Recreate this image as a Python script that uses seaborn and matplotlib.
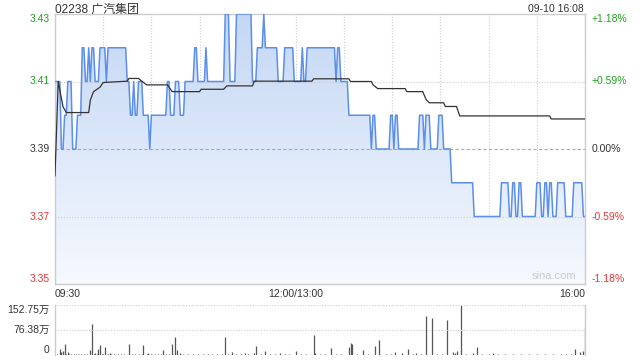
import numpy as np
import pandas as pd
import matplotlib
matplotlib.use("Agg")
import matplotlib.pyplot as plt
import matplotlib.transforms as mtransforms
from matplotlib.colors import LinearSegmentedColormap
import seaborn as sns

# ---------------- data ----------------
title = "02238 广汽集团"
stamp = "09-10 16:08"
prev_close = 3.39
price_ticks = [3.35, 3.37, 3.39, 3.41, 3.43]
price_tick_labels = ["3.35", "3.37", "3.39", "3.41", "3.43"]
pct_tick_labels = ["-1.18%", "-0.59%", "0.00%", "+0.59%", "+1.18%"]
time_labels = ["09:30", "12:00/13:00", "16:00"]
time_label_minutes = [0, 150, 330]
n_minutes = 331  # 09:30-12:00 + 13:00-16:00, one point per minute

# price: minute at which a new price starts, and that price
change_minutes = [0, 4, 6, 8, 11, 14, 17, 19, 21, 22,
                  23, 25, 28, 32, 33, 45, 47, 49, 50, 52,
                  55, 59, 60, 70, 72, 75, 78, 81, 87, 89,
                  94, 95, 106, 109, 113, 123, 126, 130, 131, 139,
                  143, 149, 154, 155, 157, 175, 176, 178, 183, 197,
                  198, 200, 209, 211, 212, 214, 227, 230, 231, 234,
                  239, 242, 247, 261, 278, 283, 285, 287, 289, 291,
                  300, 303, 305, 307, 308, 310, 313, 318, 323, 329]
change_prices = [3.41, 3.39, 3.40, 3.41, 3.39, 3.40, 3.42, 3.41, 3.42, 3.41,
                 3.42, 3.41, 3.42, 3.41, 3.42, 3.41, 3.40, 3.41, 3.40, 3.41,
                 3.40, 3.39, 3.40, 3.41, 3.40, 3.41, 3.40, 3.41, 3.42, 3.41,
                 3.42, 3.41, 3.43, 3.41, 3.43, 3.41, 3.42, 3.43, 3.42, 3.41,
                 3.42, 3.41, 3.42, 3.41, 3.42, 3.41, 3.42, 3.41, 3.40, 3.39,
                 3.40, 3.39, 3.40, 3.39, 3.40, 3.39, 3.40, 3.39, 3.40, 3.39,
                 3.40, 3.39, 3.38, 3.37, 3.38, 3.37, 3.38, 3.37, 3.38, 3.37,
                 3.38, 3.37, 3.38, 3.37, 3.38, 3.37, 3.38, 3.37, 3.38, 3.37]

# average price line (knots)
avg_minutes = [0, 2, 5, 7, 21, 22, 24, 28, 30, 45, 46, 52, 57, 70, 73, 90, 91, 105,
               107, 123, 124, 160, 161, 183, 184, 197, 198, 201, 218, 219, 229, 231,
               233, 242, 243, 250, 252, 308, 309, 330]
avg_values = [3.382, 3.410, 3.4025, 3.4008, 3.4008, 3.4045, 3.407, 3.4083, 3.4097,
              3.4101, 3.4109, 3.4109, 3.409, 3.409, 3.407, 3.407, 3.4077, 3.4077,
              3.4087, 3.4087, 3.4101, 3.4101, 3.4108, 3.4108, 3.4100, 3.4100, 3.409,
              3.4079, 3.4079, 3.407, 3.407, 3.4047, 3.4037, 3.4037, 3.4026, 3.4026,
              3.3998, 3.3998, 3.3989, 3.3989]

# volume (万)
vol_minutes = [3, 4, 5, 6, 8, 22, 23, 25, 27, 28, 31, 34, 46, 55, 58, 67, 73, 75, 76, 78,
               106, 110, 118, 124, 125, 131, 140, 150, 161, 162, 172, 183, 184, 185, 192,
               199, 202, 212, 216, 220, 225, 231, 235, 244, 248, 249, 250, 253, 260, 263,
               273, 324, 327, 329, 330]
vol_values = [17, 10, 13, 34, 10, 15, 95, 7, 17, 31, 25, 6, 34, 31, 7, 15, 34, 56, 15, 6,
              56, 10, 5, 6, 28, 12, 5, 12, 61, 6, 22, 25, 37, 34, 15,
              28, 46, 10, 6, 18, 5, 119, 114, 107, 10, 7, 13, 152.75, 6, 25,
              5, 18, 10, 13, 86]
small_vol_minutes = [1, 7, 9, 10, 12, 13, 15, 16, 18, 20, 24, 26, 29, 30, 33, 35, 37, 39,
                     41, 43, 48, 50, 52, 54, 57, 60, 62, 64, 66, 69, 71, 80, 83, 86, 89,
                     92, 95, 98, 101, 104, 108, 113, 116, 120, 128, 134, 137, 143, 146,
                     153, 156, 165, 168, 175, 178, 188, 195, 206, 209, 223, 228, 238, 241,
                     256, 266, 270, 276, 280, 285, 290, 295, 300, 305, 310, 315, 318, 321]
small_vol_values = [3, 4, 2, 3, 4, 2, 3, 2, 3, 3, 2, 4, 3, 2, 3, 2, 3, 2,
                    3, 2, 3, 2, 4, 2, 3, 2, 3, 2, 3, 2, 3, 2, 3, 2, 3,
                    2, 3, 2, 3, 2, 3, 2, 3, 2, 3, 2, 3, 2, 3,
                    2, 3, 2, 3, 2, 3, 2, 3, 2, 3, 2, 3, 2, 3,
                    2, 3, 2, 3, 2, 3, 2, 3, 2, 3, 2, 3, 2, 3]
vol_ticks = [0, 76.38, 152.75]
vol_tick_labels = ["0", "76.38万", "152.75万"]

# ---------------- styling ----------------
sns.set_theme(style="white")
plt.rcParams["font.family"] = ["Liberation Sans", "Noto Sans CJK SC", "DejaVu Sans"]

GREEN = "#1fa31f"
RED = "#ee3333"
DARK = "#333333"
BORDER = "#cccccc"
LINE = "#5b8fe8"
FS = 7.5

durations = np.diff(change_minutes + [n_minutes])
price = np.repeat(change_prices, durations)
minutes = np.arange(n_minutes)
df = pd.DataFrame({"minute": minutes, "price": price})
avg_df = pd.DataFrame({"minute": avg_minutes, "avg": avg_values})

vol = np.zeros(n_minutes)
vol[small_vol_minutes] = small_vol_values
vol[vol_minutes] = vol_values

fig = plt.figure(figsize=(6.4, 3.6), dpi=100)
fig.patch.set_facecolor("white")
ax = fig.add_axes([55 / 640, 1 - 284 / 360, 530 / 640, 270 / 360])
axv = fig.add_axes([55 / 640, 5 / 360, 530 / 640, 50 / 360])

ymin, ymax = price_ticks[0], price_ticks[-1]
xmax = n_minutes - 1

# gradient fill under price line
poly = ax.fill_between(df["minute"], df["price"], ymin, facecolor="none", edgecolor="none")
cmap = LinearSegmentedColormap.from_list("g", ["#f6f9fe", "#c4d7f5"])
grad = np.linspace(0, 1, 256).reshape(-1, 1)
im = ax.imshow(grad, extent=[0, xmax, ymin, ymax], origin="lower", aspect="auto",
               cmap=cmap, zorder=1, interpolation="bilinear")
im.set_clip_path(poly.get_paths()[0], transform=ax.transData)

sns.lineplot(data=df, x="minute", y="price", ax=ax, color=LINE, lw=1.1, zorder=3)
sns.lineplot(data=avg_df, x="minute", y="avg", ax=ax, color=DARK, lw=0.9, zorder=4)

ax.set_xlim(0, xmax)
ax.set_ylim(ymin, ymax)
ax.set_xlabel("")
ax.set_ylabel("")
ax.set_xticks(np.arange(0, n_minutes, 30))
ax.set_xticklabels([])
ax.tick_params(axis="x", length=0)
ax.grid(axis="x", color=BORDER, ls=(0, (1, 1.5)), lw=0.8)
for v in [price_ticks[1], price_ticks[3]]:
    ax.axhline(v, color=BORDER, ls=(0, (1, 1.5)), lw=0.8, zorder=2)
ax.axhline(prev_close, color="#aaaaaa", ls=(0, (3, 2)), lw=0.8, zorder=2)
for s in ax.spines.values():
    s.set_color(BORDER)
    s.set_linewidth(1)

label_colors = [RED, RED, DARK, GREEN, GREEN]
vas = ["bottom", "center", "center", "center", "top"]
ax.set_yticks(price_ticks)
ax.set_yticklabels(price_tick_labels)
ax.tick_params(axis="y", length=0, pad=4, labelsize=FS)
for lbl, c, va in zip(ax.get_yticklabels(), label_colors, vas):
    lbl.set_color(c)
    lbl.set_va(va)

ax2 = ax.twinx()
ax2.set_ylim(ymin, ymax)
ax2.set_yticks(price_ticks)
ax2.set_yticklabels(pct_tick_labels)
ax2.tick_params(axis="y", length=0, pad=5, labelsize=FS)
for lbl, c, va in zip(ax2.get_yticklabels(), label_colors, vas):
    lbl.set_color(c)
    lbl.set_va(va)
for s in ax2.spines.values():
    s.set_visible(False)
ax2.grid(False)

# time labels
trans = mtransforms.blended_transform_factory(ax.transData, ax.transAxes)
has = ["left", "center", "right"]
for m, t, ha in zip(time_label_minutes, time_labels, has):
    ax.text(m, -0.018, t, transform=trans, ha=ha, va="top", fontsize=FS, color=DARK)

fig.text(55 / 640, 1 - 12.5 / 360, title, ha="left", va="baseline", fontsize=8.6, color=DARK)
fig.text(584 / 640, 1 - 12 / 360, stamp, ha="right", va="baseline", fontsize=FS, color=DARK)
ax.text(0.983, 0.012, "sina.com", transform=ax.transAxes, ha="right", va="bottom",
        fontsize=8, color="#cccccc", zorder=5)

# volume panel
axv.vlines(minutes, 0, vol, color="#555555", lw=0.9)
axv.set_xlim(0, xmax)
axv.set_ylim(0, vol_ticks[-1])
axv.set_xticks([])
axv.set_yticks(vol_ticks)
axv.set_yticklabels(vol_tick_labels)
axv.tick_params(axis="y", length=0, pad=4, labelsize=FS, colors=DARK)
for lbl, va in zip(axv.get_yticklabels(), ["bottom", "center", "top"]):
    lbl.set_va(va)
for v in vol_ticks[1:]:
    axv.axhline(v, color=BORDER, ls=(0, (1, 1.5)), lw=0.8)
for name, s in axv.spines.items():
    if name in ("left", "right"):
        s.set_color(BORDER)
        s.set_linewidth(1)
    else:
        s.set_visible(False)

fig.savefig("out.png", dpi=100, facecolor="white")
